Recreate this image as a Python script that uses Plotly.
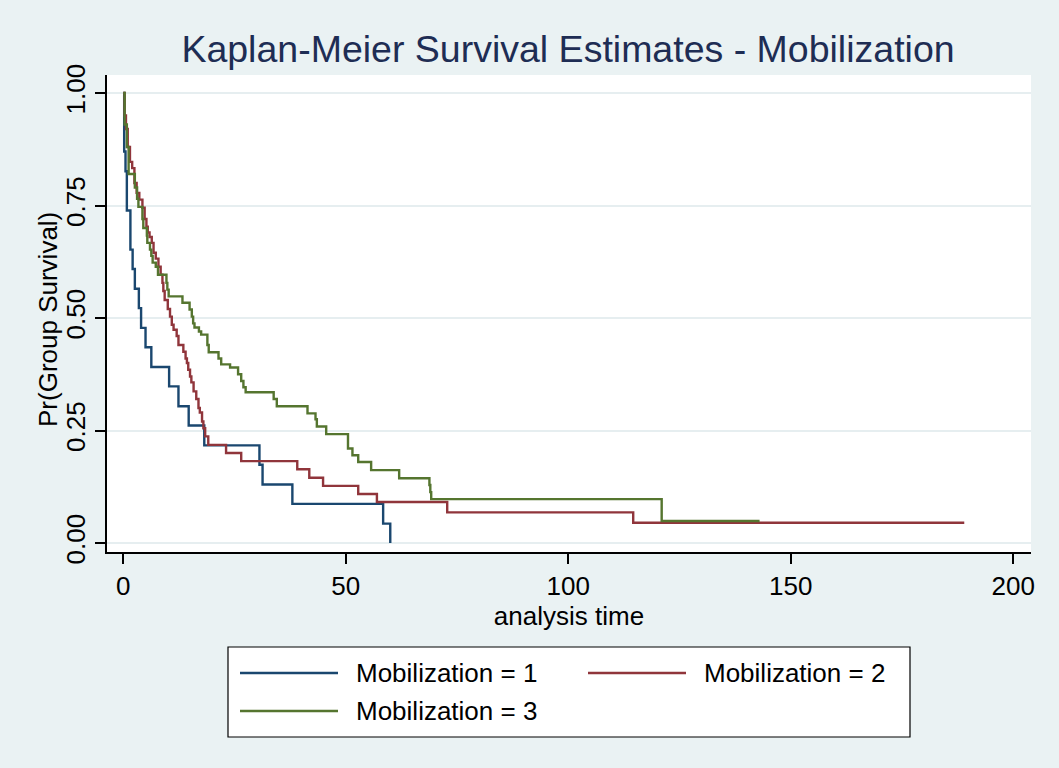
import plotly.graph_objects as go

# ---- data ----
time_1 = [0, 0.2, 0.5, 0.8, 1.6, 2.1, 2.6, 3.5, 4.0, 5.0, 6.3, 10.3, 12.4, 14.7,
          18.2, 30.6, 31.3, 38.0, 58.4, 60.0]
surv_1 = [1.0, 0.870, 0.826, 0.739, 0.652, 0.609, 0.565, 0.522, 0.478, 0.435,
          0.391, 0.348, 0.304, 0.261, 0.217, 0.174, 0.130, 0.087, 0.043, 0.0]

time_2 = [0, 0.3, 0.6, 1.0, 1.5, 2.0, 2.5, 3.0, 3.6, 4.3, 4.8, 5.2, 5.5, 5.9, 6.4,
          6.8, 7.3, 7.9, 8.4, 8.8, 9.0, 9.3, 10.0, 10.5, 10.9, 11.3, 12.0, 12.4,
          13.5, 14.0, 14.3, 14.6, 15.0, 15.3, 15.8, 16.4, 16.9, 17.2, 17.7, 18.0,
          18.4, 19.1, 23.1, 26.5, 39.1, 41.8, 44.9, 52.8, 57.0, 72.8, 114.6, 189.0]
surv_2 = [1.0, 0.95, 0.92, 0.88, 0.847, 0.833, 0.80, 0.778, 0.763, 0.745, 0.72,
          0.703, 0.69, 0.68, 0.667, 0.645, 0.632, 0.614, 0.596, 0.578, 0.56, 0.54,
          0.52, 0.503, 0.485, 0.474, 0.46, 0.44, 0.425, 0.41, 0.40, 0.385, 0.37,
          0.357, 0.337, 0.32, 0.30, 0.29, 0.27, 0.255, 0.237, 0.218, 0.20, 0.182,
          0.164, 0.145, 0.127, 0.109, 0.091, 0.068, 0.045, 0.045]

time_3 = [0, 0.3, 0.8, 1.2, 2.6, 3.1, 3.4, 4.3, 4.5, 5.3, 5.4, 6.0, 6.3, 6.6, 7.3,
          7.8, 9.7, 9.9, 10.2, 13.3, 14.9, 15.4, 15.7, 16.0, 17.0, 17.5, 18.9,
          19.2, 21.4, 22.0, 24.0, 25.8, 26.5, 27.0, 27.5, 33.8, 34.5, 41.4, 43.2,
          43.5, 45.6, 50.5, 51.5, 52.8, 55.7, 62.0, 68.8, 69.0, 69.2, 121.0, 143.0]
surv_3 = [1.0, 0.93, 0.88, 0.82, 0.79, 0.765, 0.747, 0.72, 0.70, 0.683, 0.667,
          0.652, 0.638, 0.623, 0.614, 0.596, 0.578, 0.563, 0.548, 0.534, 0.519,
          0.503, 0.488, 0.479, 0.47, 0.463, 0.44, 0.424, 0.41, 0.397, 0.39, 0.375,
          0.36, 0.346, 0.335, 0.32, 0.304, 0.288, 0.275, 0.259, 0.242, 0.21, 0.195,
          0.18, 0.162, 0.144, 0.129, 0.113, 0.0975, 0.049, 0.049]

series_names = ["Mobilization = 1", "Mobilization = 2", "Mobilization = 3"]
x_ticks = [0, 50, 100, 150, 200]
y_ticks = [0, 0.25, 0.5, 0.75, 1.0]
y_tick_labels = ["0.00", "0.25", "0.50", "0.75", "1.00"]

# ---- styling ----
colors = ["#1a476f", "#90353b", "#55752f"]
BG = "#eaf2f3"
FONT = "Liberation Sans, Arial, Helvetica, sans-serif"
W, H = 1059, 768
L, R, T, B = 107, 28, 75, 216


def px_x(px):
    return (px - L) / (W - L - R)


def px_y(py):
    return (H - B - py) / (H - T - B)


fig = go.Figure()
for t, s, c, nm in zip([time_1, time_2, time_3], [surv_1, surv_2, surv_3],
                       colors, series_names):
    fig.add_trace(go.Scatter(x=t, y=s, mode="lines", name=nm, showlegend=False,
                             line=dict(color=c, width=2.4, shape="hv")))

# ---- manual legend (Stata style) ----
shapes = [dict(type="rect", xref="paper", yref="paper",
               x0=px_x(228), x1=px_x(910), y0=px_y(737), y1=px_y(647),
               fillcolor="white", line=dict(color="black", width=1.2), layer="above")]
annotations = []
entries = [(240, 673), (588, 673), (240, 711)]
for (lx, ly), c, nm in zip(entries, colors, series_names):
    shapes.append(dict(type="line", xref="paper", yref="paper",
                       x0=px_x(lx), x1=px_x(lx + 98), y0=px_y(ly), y1=px_y(ly),
                       line=dict(color=c, width=2.4), layer="above"))
    annotations.append(dict(xref="paper", yref="paper", x=px_x(lx + 114), y=px_y(ly),
                            xanchor="left", yanchor="middle", showarrow=False,
                            text=nm, font=dict(family=FONT, size=26, color="black")))

# y-axis title placed like Stata's
annotations.append(dict(xref="paper", yref="paper", x=px_x(48), y=px_y(320),
                        xanchor="center", yanchor="middle", showarrow=False,
                        textangle=-90, text="Pr(Group Survival)",
                        font=dict(family=FONT, size=26, color="black")))

fig.update_layout(
    width=W, height=H,
    margin=dict(l=L, r=R, t=T, b=B, autoexpand=False),
    paper_bgcolor=BG, plot_bgcolor="white",
    title=dict(text="Kaplan-Meier Survival Estimates - Mobilization",
               x=568 / W, xref="container", xanchor="center",
               y=1 - 49 / H, yref="container", yanchor="middle",
               font=dict(family=FONT, size=37.5, color="#1e2d54")),
    font=dict(family=FONT, size=26, color="black"),
    shapes=shapes, annotations=annotations,
    showlegend=False,
)
fig.update_xaxes(range=[-3.66, 204], tickvals=x_ticks, showgrid=False, zeroline=False,
                 showline=True, linecolor="black", linewidth=1.5,
                 ticks="outside", ticklen=10, tickwidth=1.5, tickcolor="black",
                 tickfont=dict(family=FONT, size=26, color="black"),
                 title=dict(text="analysis time", standoff=4,
                            font=dict(family=FONT, size=26, color="black")))
fig.update_yaxes(range=[-0.02, 1.04], tickvals=y_ticks, ticktext=y_tick_labels,
                 tickangle=-90, showgrid=True, gridcolor="#e6eef0", gridwidth=2,
                 zeroline=False, showline=True, linecolor="black", linewidth=1.5,
                 ticks="outside", ticklen=10, tickwidth=1.5, tickcolor="black",
                 tickfont=dict(family=FONT, size=26, color="black"))

fig.write_html("out.html")
